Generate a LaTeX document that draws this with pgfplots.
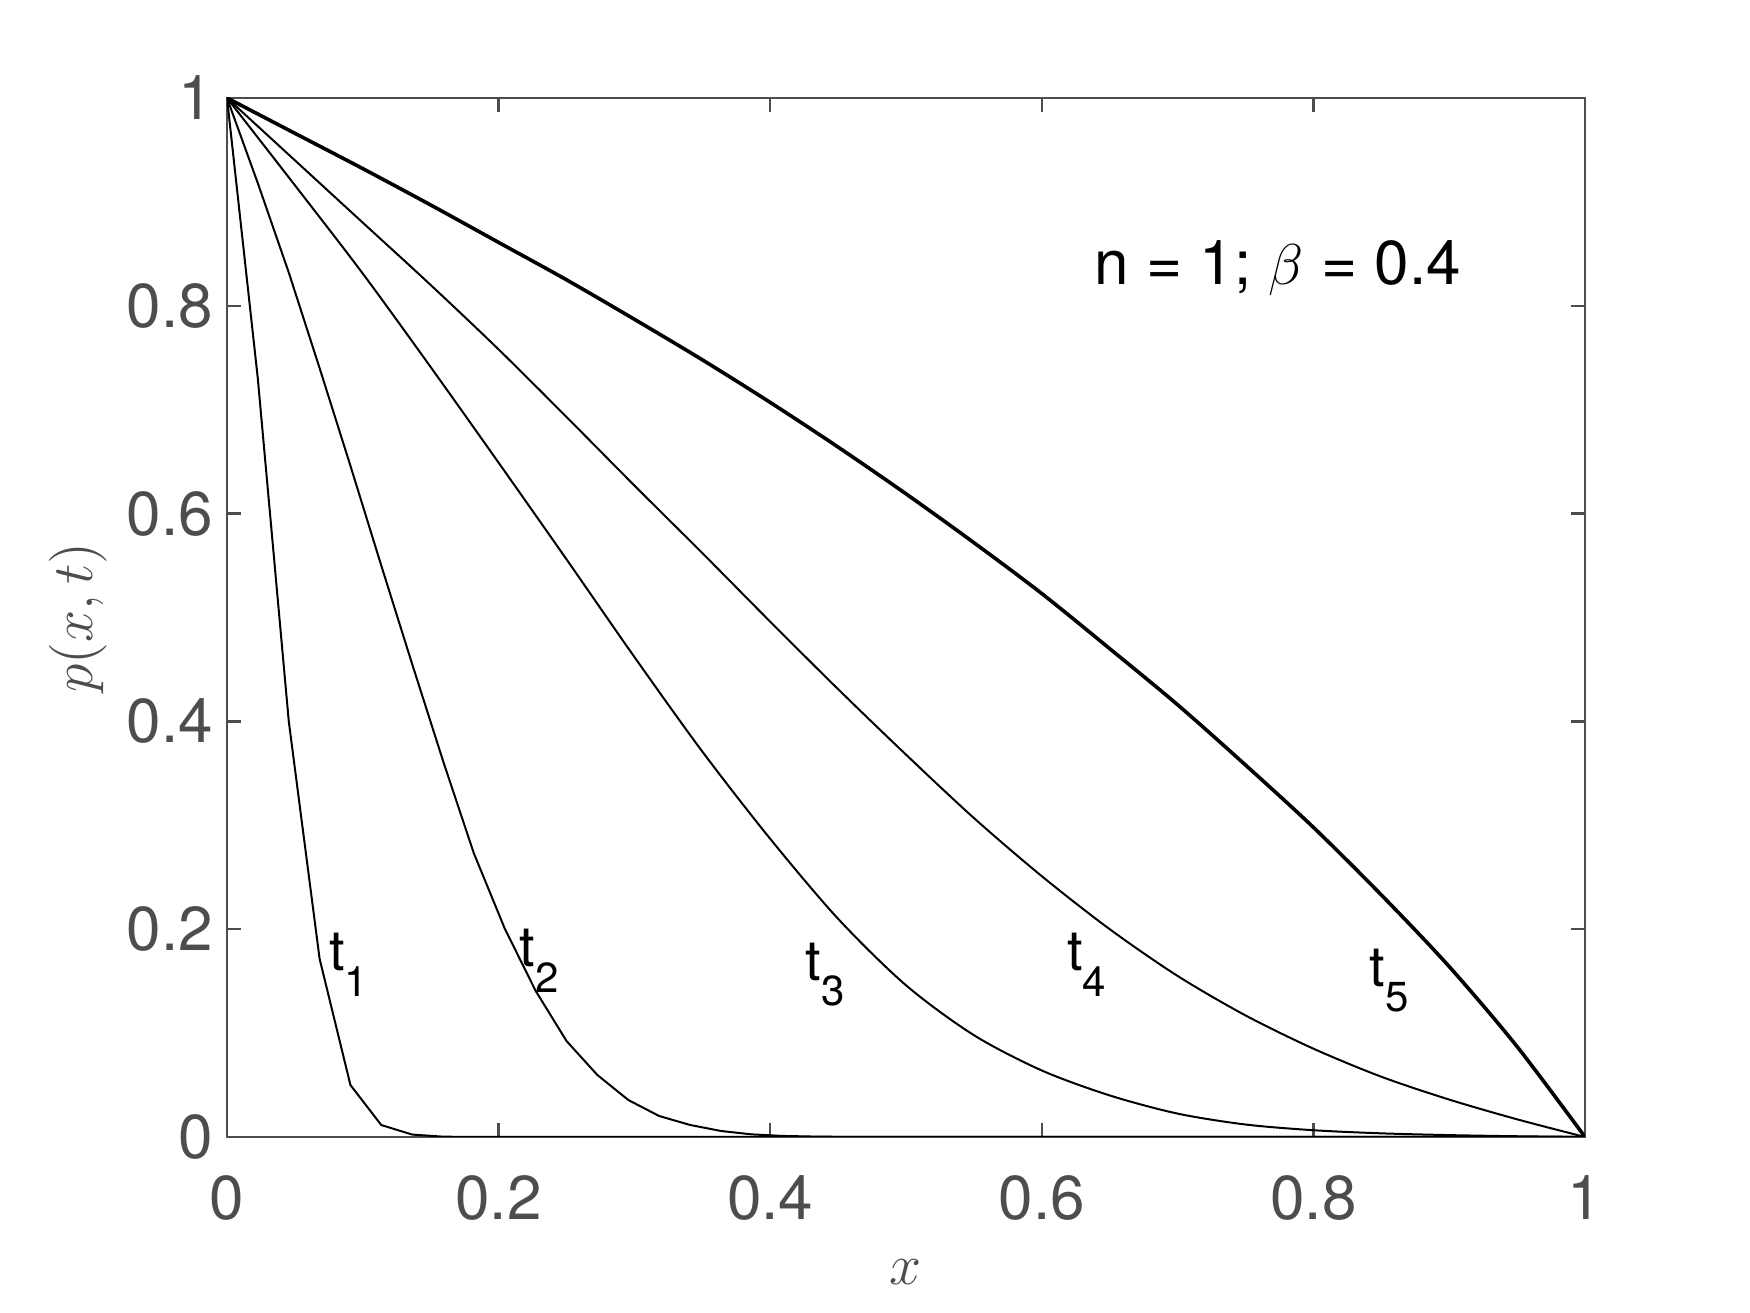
\documentclass[border=0pt]{standalone}
\usepackage{fontspec}
\setmainfont{TeX Gyre Heros}
\usepackage{pgfplots}
\pgfplotsset{compat=1.18}
\definecolor{axgray}{HTML}{4D4D4D}
\newcommand{\tlab}[1]{\fontsize{14}{14}\selectfont t\raisebox{-6.4pt}{\fontsize{10.5}{10.5}\selectfont #1}}
\begin{document}
\begin{tikzpicture}
\path[use as bounding box] (-56.75pt,-44pt) rectangle (380.75pt,284.25pt);
\begin{axis}[
  at={(0,0)}, anchor=south west,
  scale only axis, width=339.5pt, height=259.75pt,
  xmin=0, xmax=1, ymin=0, ymax=1,
  xtick={0,0.2,0.4,0.6,0.8,1}, ytick={0,0.2,0.4,0.6,0.8,1},
  tick align=inside, xtick pos=both, ytick pos=both,
  major tick length=3.4pt,
  axis line style={axgray, line width=0.6pt},
  every tick/.style={axgray, line width=0.6pt},
  tick label style={font=\fontsize{15.5}{16}\selectfont, text=axgray},
  xticklabel style={yshift=-6pt},
  /pgf/number format/assume math mode=true,
  xlabel={$x$}, ylabel={$p(x,t)$},
  label style={font=\fontsize{15.4}{16}\selectfont, text=axgray},
  xlabel style={at={(axis description cs:0.5,-0.13)}, anchor=center},
  ylabel style={at={(axis description cs:-0.11,0.5)}, anchor=center},
]
% t1
\addplot[black, line width=0.5pt] coordinates {(0,1) (0.0227,0.73) (0.0455,0.40) (0.0682,0.1715) (0.0909,0.050) (0.1136,0.0115) (0.1364,0.0023) (0.1591,0.0003) (0.1818,0) (1,0)};
% t2
\addplot[black, line width=0.5pt] coordinates {(0,1) (0.0227,0.918) (0.0455,0.832) (0.0682,0.740) (0.0909,0.646) (0.1136,0.550) (0.1364,0.455) (0.1591,0.362) (0.1818,0.273) (0.2045,0.2007) (0.2273,0.1406) (0.25,0.0924) (0.2727,0.0597) (0.2955,0.0356) (0.3182,0.0202) (0.3409,0.0116) (0.3636,0.0058) (0.3864,0.0025) (0.4091,0.0010) (0.4318,0.0004) (0.4545,0.0001) (0.5,0) (1,0)};
% t3
\addplot[black, line width=0.5pt, smooth, tension=0.5] coordinates {(0,1) (0.05,0.916) (0.1,0.831) (0.15,0.741) (0.2,0.649) (0.25,0.556) (0.3,0.462) (0.35,0.371) (0.4,0.287) (0.45,0.210) (0.5,0.146) (0.55,0.098) (0.6,0.064) (0.65,0.040) (0.7,0.0225) (0.75,0.012) (0.8,0.0065) (0.85,0.0035) (0.9,0.0018) (0.95,0.0007) (1,0)};
% t4
\addplot[black, line width=0.5pt, smooth, tension=0.5] coordinates {(0,1) (0.05,0.94) (0.1,0.88) (0.15,0.82) (0.2,0.758) (0.25,0.693) (0.3,0.627) (0.35,0.562) (0.4,0.496) (0.45,0.431) (0.5,0.368) (0.55,0.307) (0.6,0.251) (0.65,0.200) (0.7,0.155) (0.75,0.117) (0.8,0.085) (0.85,0.058) (0.9,0.036) (0.95,0.017) (1,0)};
% t5
\addplot[black, line width=0.9pt, smooth, tension=0.5] coordinates {(0,1) (0.05,0.966) (0.1,0.932) (0.15,0.897) (0.2,0.861) (0.25,0.825) (0.3,0.787) (0.35,0.748) (0.4,0.707) (0.45,0.664) (0.5,0.619) (0.55,0.572) (0.6,0.523) (0.65,0.47) (0.7,0.416) (0.75,0.358) (0.8,0.298) (0.85,0.233) (0.9,0.164) (0.95,0.087) (1,0)};
\node[anchor=base west, inner sep=0pt] at (axis cs:0.0748,0.160) {\tlab{1}};
\node[anchor=base west, inner sep=0pt] at (axis cs:0.215,0.164) {\tlab{2}};
\node[anchor=base west, inner sep=0pt] at (axis cs:0.4256,0.151) {\tlab{3}};
\node[anchor=base west, inner sep=0pt] at (axis cs:0.618,0.160) {\tlab{4}};
\node[anchor=base west, inner sep=0pt] at (axis cs:0.841,0.145) {\tlab{5}};
\node[anchor=base west, inner sep=0pt, font=\fontsize{15.5}{16}\selectfont] at (axis cs:0.6384,0.8208) {n = 1; $\beta$ = 0.4};
\end{axis}
\end{tikzpicture}
\end{document}
